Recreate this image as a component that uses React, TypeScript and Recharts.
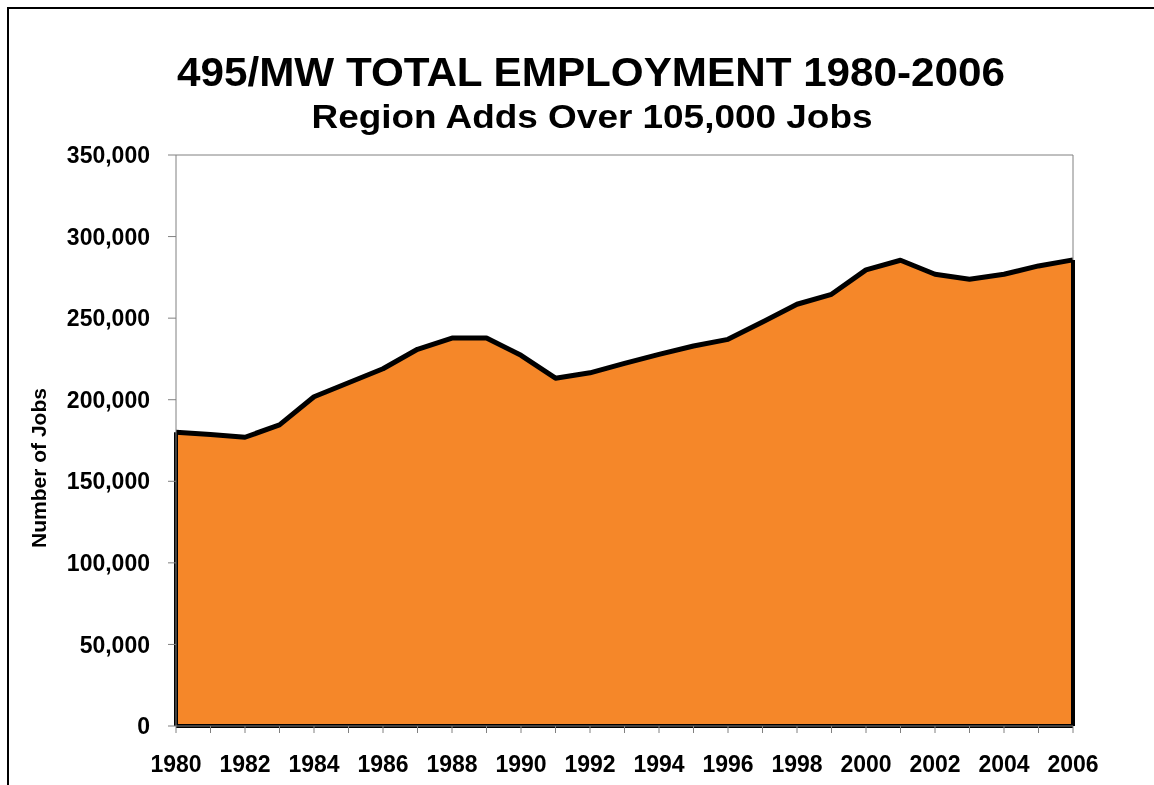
import { AreaChart, Area, XAxis, YAxis, ReferenceLine } from 'recharts';

const years = [
  1980, 1981, 1982, 1983, 1984, 1985, 1986, 1987, 1988, 1989, 1990, 1991, 1992, 1993,
  1994, 1995, 1996, 1997, 1998, 1999, 2000, 2001, 2002, 2003, 2004, 2005, 2006,
];

const jobs = [
  180000, 178700, 177000, 184600, 201800, 210400, 219000, 230900, 237800, 237800,
  227200, 213200, 216500, 222300, 227800, 232900, 237000, 247600, 258500, 264600,
  279600, 285500, 276900, 273900, 276900, 282000, 285700,
];

const yTicks = [0, 50000, 100000, 150000, 200000, 250000, 300000, 350000];

const title = '495/MW TOTAL EMPLOYMENT 1980-2006';
const subtitle = 'Region Adds Over 105,000 Jobs';
const yLabel = 'Number of Jobs';

const data = years.map((year, i) => ({ year, jobs: jobs[i] }));

const font = '"Liberation Sans", Arial, sans-serif';
const tickStyle = { fontSize: 23, fontWeight: 'bold', fill: '#000', fontFamily: font };

export default function App() {
  const first = years[0];
  const last = years[years.length - 1];
  return (
    <div>
      {/* outer frame, only left and top edges visible */}
      <div
        style={{
          position: 'fixed',
          left: 7,
          top: 7,
          right: -20,
          bottom: -20,
          borderLeft: '2px solid #000',
          borderTop: '2px solid #000',
        }}
      />
      <div style={{ position: 'fixed', left: 0, top: 0 }}>
        <AreaChart
          width={1154}
          height={785}
          data={data}
          margin={{ top: 155, right: 81, bottom: 0, left: 0 }}
        >
          <XAxis
            dataKey="year"
            type="number"
            domain={[first, last]}
            ticks={years}
            interval={0}
            tickFormatter={(v) => (v % 2 === 0 ? String(v) : '')}
            height={59}
            tickSize={7}
            tickMargin={23}
            tick={tickStyle}
            stroke="#808080"
          />
          <YAxis
            domain={[0, 350000]}
            ticks={yTicks}
            width={176}
            tickSize={8}
            tickMargin={18}
            tick={tickStyle}
            stroke="#808080"
            tickFormatter={(v) => v.toLocaleString('en-US')}
          />
          <ReferenceLine y={350000} stroke="#808080" strokeWidth={1} />
          <ReferenceLine x={last} stroke="#808080" strokeWidth={1} />
          <Area
            type="linear"
            dataKey="jobs"
            fill="#F58729"
            fillOpacity={1}
            stroke="#000"
            strokeWidth={5}
            strokeLinejoin="round"
            dot={false}
            activeDot={false}
            isAnimationActive={false}
          />
          <ReferenceLine
            segment={[{ x: first, y: 0 }, { x: first, y: jobs[0] }]}
            stroke="#000"
            strokeWidth={4}
          />
          <ReferenceLine
            segment={[{ x: last, y: 0 }, { x: last, y: jobs[jobs.length - 1] }]}
            stroke="#000"
            strokeWidth={4}
          />
          <ReferenceLine
            segment={[{ x: first, y: 0 }, { x: last, y: 0 }]}
            stroke="#000"
            strokeWidth={4}
          />
        </AreaChart>
      </div>
      <svg
        width={1154}
        height={785}
        style={{ position: 'fixed', left: 0, top: 0, pointerEvents: 'none' }}
      >
        <text
          x={591}
          y={86}
          textAnchor="middle"
          fontFamily={font}
          fontWeight="bold"
          fontSize={40}
          textLength={828}
          lengthAdjust="spacingAndGlyphs"
        >
          {title}
        </text>
        <text
          x={592}
          y={128}
          textAnchor="middle"
          fontFamily={font}
          fontWeight="bold"
          fontSize={34}
          textLength={561}
          lengthAdjust="spacingAndGlyphs"
        >
          {subtitle}
        </text>
        <text
          x={46}
          y={468}
          textAnchor="middle"
          transform="rotate(-90 46 468)"
          fontFamily={font}
          fontWeight="bold"
          fontSize={20}
          textLength={160}
          lengthAdjust="spacingAndGlyphs"
        >
          {yLabel}
        </text>
      </svg>
    </div>
  );
}
